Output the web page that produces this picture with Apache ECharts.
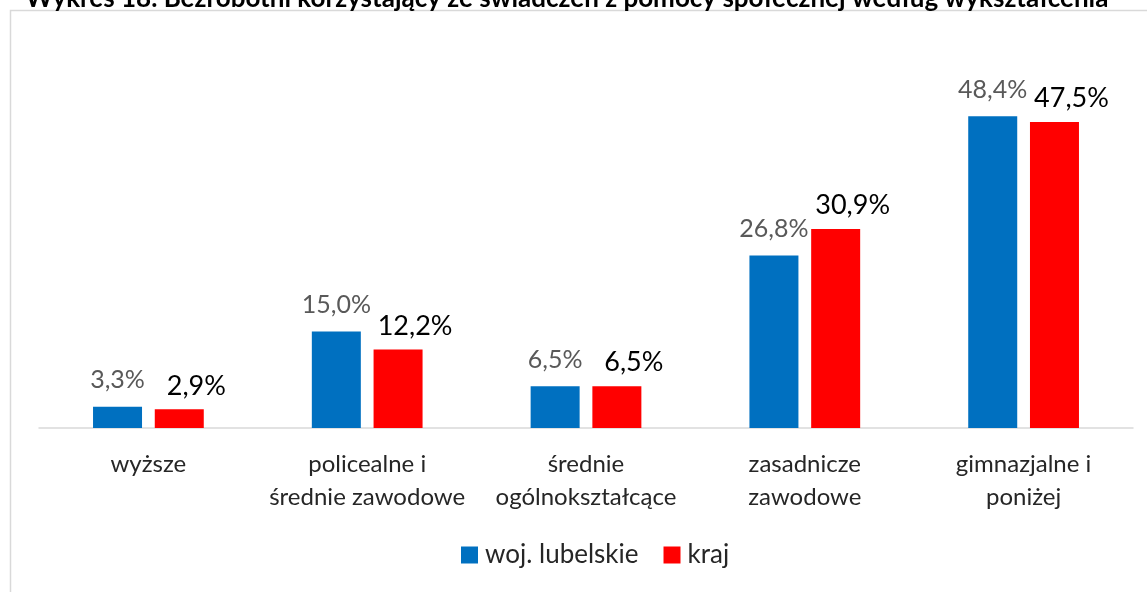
<!DOCTYPE html>
<html>
<head>
<meta charset="utf-8">
<script src="https://cdn.jsdelivr.net/npm/echarts@6/dist/echarts.min.js"></script>
<style>
  html, body { margin: 0; padding: 0; background: #fff; }
  #chart { width: 1147px; height: 592px; }
</style>
</head>
<body>
<div id="chart"></div>
<script>
const categories = [
  "wyższe",
  "policealne i\nśrednie zawodowe",
  "średnie\nogólnokształcące",
  "zasadnicze\nzawodowe",
  "gimnazjalne i\nponiżej"
]
const lubelskie = [3.3, 15.0, 6.5, 26.8, 48.4]
const kraj = [2.9, 12.2, 6.5, 30.9, 47.5]

const fmt = (p) => p.value.toFixed(1).replace(".", ",") + "%"
const font = "Lato, 'Open Sans', sans-serif"

const chart = echarts.init(document.getElementById("chart"))

chart.setOption({
  animation: false,
  textStyle: { fontFamily: font },
  title: {
    text: "Wykres 18. Bezrobotni korzystający ze świadczeń z pomocy społecznej według wykształcenia",
    left: 562,
    textAlign: "center",
    top: -19,
    textStyle: { fontSize: 26, fontWeight: "bold", color: "#000", fontFamily: font }
  },
  graphic: [
    {
      type: "rect",
      shape: { x: 10.5, y: 10.5, width: 1150, height: 600 },
      style: { fill: "none", stroke: "#d9d9d9", lineWidth: 1.5 },
      silent: true
    }
  ],
  legend: {
    bottom: 19,
    left: 456,
    itemWidth: 17,
    itemHeight: 17,
    itemGap: 25,
    icon: "rect",
    textStyle: { fontSize: 26, color: "#262626", fontFamily: font, padding: [0, 0, 0, 2] },
    data: ["woj. lubelskie", "kraj"]
  },
  grid: { left: 39, right: 14, top: 106, bottom: 164 },
  xAxis: {
    type: "category",
    data: categories,
    axisLine: { lineStyle: { color: "#d9d9d9", width: 1.5 } },
    axisTick: { show: false },
    axisLabel: {
      fontSize: 24,
      color: "#262626",
      lineHeight: 33,
      margin: 20,
      interval: 0,
      fontFamily: font
    }
  },
  yAxis: {
    type: "value",
    min: 0,
    max: 50,
    show: false,
    splitLine: { show: false }
  },
  series: [
    {
      name: "woj. lubelskie",
      type: "bar",
      data: lubelskie,
      barWidth: 49,
      barGap: "26%",
      itemStyle: { color: "#0070c0" },
      label: {
        show: true,
        position: "top",
        distance: 14,
        formatter: fmt,
        fontSize: 25,
        color: "#595959",
        fontFamily: font
      }
    },
    {
      name: "kraj",
      type: "bar",
      data: kraj,
      barWidth: 49,
      itemStyle: { color: "#ff0000" },
      label: {
        show: true,
        position: "top",
        distance: 10,
        offset: [17, 0],
        formatter: fmt,
        fontSize: 27,
        color: "#000",
        fontFamily: font
      }
    }
  ]
})
</script>
</body>
</html>
